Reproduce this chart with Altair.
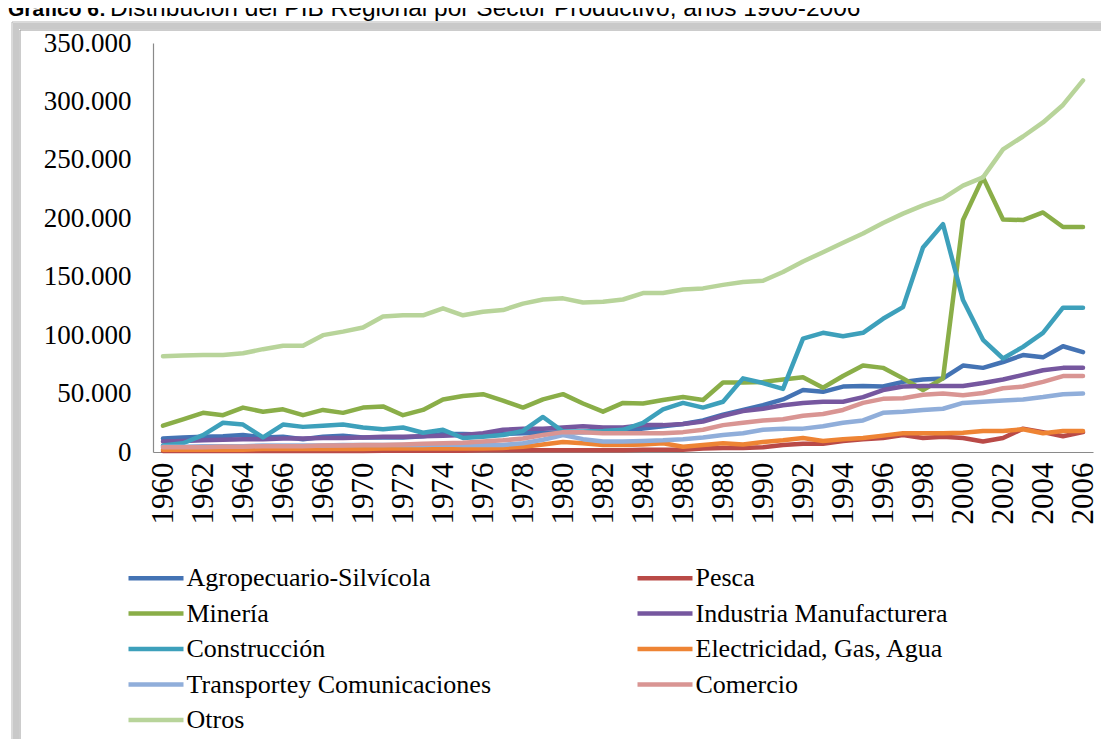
import altair as alt
import pandas as pd

years = list(range(1960, 2007))

series_names = [
    "Agropecuario-Silvícola", "Pesca", "Minería", "Industria Manufacturera",
    "Construcción", "Electricidad, Gas, Agua", "Transportey Comunicaciones",
    "Comercio", "Otros",
]
series_colors = [
    "#4473B4", "#B94A47", "#8AAE48", "#76579F",
    "#3DA0BB", "#EE8434", "#90AEDA", "#D99593", "#B8D49A",
]

# values in thousands
agro = [11.5, 12.5, 13, 13.5, 14.5, 12.5, 13, 11, 13, 14,
        12.5, 12.5, 12.5, 13.5, 15.5, 15.5, 15, 15.5, 16, 16.5,
        17, 17, 17.5, 18, 20, 22, 24, 27, 32, 36,
        40, 45, 53, 51.5, 56, 56.5, 56, 60, 62, 63,
        74, 72, 77, 83, 81, 90.5, 85.5]
pesca = [0.8, 0.8, 0.8, 0.8, 0.8, 0.8, 0.8, 0.8, 0.8, 0.8,
         0.8, 1, 1, 1, 1, 1, 1.5, 1.5, 1.5, 1.5,
         1.5, 1.5, 1.5, 1.5, 2, 2, 2, 3, 3.5, 3.5,
         4, 6, 7, 7, 9.5, 11, 12, 14.5, 12, 13,
         12, 9, 12, 20, 17, 13.5, 17]
mineria = [22.5, 28, 33.5, 31.5, 38, 34.5, 36.5, 31.5, 36, 33.5,
           38, 39, 31.5, 36, 45, 48, 49.5, 44, 38, 45,
           49.5, 41.5, 34.5, 42, 41.5, 44.5, 47, 44.5, 59.5, 59.5,
           60, 62, 64, 55, 65, 74, 72, 63, 53, 63,
           198.5, 235, 199, 198.5, 205, 192.5, 192.5]
industria = [9, 9.5, 10, 10.5, 11, 11, 11.5, 11.5, 12, 12,
             12.5, 13, 13, 13.5, 14, 14.5, 16, 19, 20, 20,
             21, 22, 21, 21, 23, 23, 24, 26, 31, 35,
             37, 40, 42, 43, 43, 47, 53, 56, 56.5, 56.5,
             56.5, 59, 62, 66, 70, 72, 72]
construccion = [5.5, 7.5, 14.5, 25, 23.5, 12.5, 23.5, 21.5, 22.5, 23.5,
                21, 19.5, 21, 16.5, 19, 12, 13, 14.5, 18, 30,
                17.5, 17.5, 18, 19, 25, 36.5, 42, 38, 43, 63,
                59, 54, 97, 102, 99, 102, 114, 124, 175, 195,
                130, 96, 80, 90, 102, 123.5, 123.5]
electricidad = [2, 2, 2, 2, 2, 2.5, 2.5, 2.5, 2.5, 2.5,
                2.5, 3, 3, 3, 3, 3, 3, 3.5, 4.5, 6.5,
                8.5, 7.5, 6, 6, 6.5, 7.5, 4.5, 6, 7.5, 6.5,
                8.5, 10, 12, 9.5, 11, 12, 14, 16, 16, 16,
                16.5, 18, 18, 19.5, 16, 18, 18]
transporte = [4.5, 4.5, 5, 5, 5, 5.5, 5.5, 5.5, 5.5, 6,
              6, 6, 6, 6, 6.5, 6, 6, 6, 7.5, 10.5,
              14.5, 11, 9, 9, 9.5, 10, 11, 12.5, 14.5, 16,
              19, 20, 20, 22, 25, 27, 33.5, 34.5, 36, 37,
              42, 43, 44, 45, 47, 49.5, 50]
comercio = [4, 4, 4, 4.5, 4.5, 5, 5, 5, 5.5, 5.5,
            6, 6, 6.5, 7, 7.5, 8, 9, 10, 11.5, 14.5,
            17, 17, 16, 16, 16, 16, 17, 19, 23, 25,
            27, 28, 31, 32.5, 36, 42, 45.5, 46, 49, 50,
            48.5, 50.5, 54.5, 56, 60, 65, 65]
otros = [82, 82.5, 83, 83, 84.5, 88, 91, 91, 100, 103,
         106.5, 116, 117, 117, 123, 117, 120, 121.5, 127, 130.5,
         131.5, 128, 128.5, 130.5, 136, 136, 139, 140, 143, 145.5,
         146.5, 154, 163, 171, 179, 187, 196, 204, 211, 217,
         228, 235, 259, 270, 282, 297, 318]

all_series = [agro, pesca, mineria, industria, construccion,
              electricidad, transporte, comercio, otros]

rows = []
for i, (name, vals) in enumerate(zip(series_names, all_series)):
    for yr, v in zip(years, vals):
        rows.append({"anio": yr, "serie": name, "valor": v * 1000, "orden": i})
df = pd.DataFrame(rows)

# legend is filled column by column: list column 1 entries, then column 2
legend_order = [0, 2, 4, 6, 8, 1, 3, 5, 7]
legend_domain = [series_names[i] for i in legend_order]
legend_range = [series_colors[i] for i in legend_order]

title_bold = "Gráfico 6:"
title_rest = "Distribución del PIB Regional por Sector Productivo, años 1960-2006"

SERIF = "Liberation Serif"

frame_outer = alt.Chart(alt.Data(values=[{"k": 1}])).mark_rect(
    filled=False, stroke="#C9C9C9", strokeWidth=6
).encode(x=alt.value(-137), x2=alt.value(1200), y=alt.value(-17), y2=alt.value(900))

frame_inner = alt.Chart(alt.Data(values=[{"k": 1}])).mark_rect(
    filled=False, stroke="#9A9A9A", strokeWidth=1
).encode(x=alt.value(-133), x2=alt.value(1200), y=alt.value(-13), y2=alt.value(900))

frame_edge = alt.Chart(alt.Data(values=[{"k": 1}])).mark_rect(
    filled=False, stroke="#B5B5B5", strokeWidth=1
).encode(x=alt.value(-141), x2=alt.value(1200), y=alt.value(-21), y2=alt.value(900))

lines = alt.Chart(df).mark_line(strokeWidth=4.5, strokeJoin="round", strokeCap="round").encode(
    x=alt.X(
        "anio:Q",
        scale=alt.Scale(domain=[1959.5, 2006.5], nice=False, zero=False),
        axis=alt.Axis(
            values=list(range(1960, 2007, 2)), format="d", labelAngle=-90,
            labelAlign="right", labelBaseline="middle", ticks=False, grid=False,
            domainColor="#8A8A8A", domainWidth=1.2, labelFont=SERIF, labelFontSize=31,
            labelColor="black", labelPadding=10, title=None,
        ),
    ),
    y=alt.Y(
        "valor:Q",
        scale=alt.Scale(domain=[0, 350000], nice=False),
        axis=alt.Axis(
            values=list(range(0, 350001, 50000)),
            labelExpr="datum.value == 0 ? '0' : format(datum.value / 1000, 'd') + '.000'",
            ticks=False, grid=False, domainColor="#8A8A8A", domainWidth=1.2,
            labelFont=SERIF, labelFontSize=27, labelColor="black", labelPadding=22,
            title=None,
        ),
    ),
    color=alt.Color(
        "serie:N",
        scale=alt.Scale(domain=legend_domain, range=legend_range),
        legend=alt.Legend(
            title=None, orient="none", legendX=-10.5, legendY=521.5, columns=2,
            symbolType="M-2.5,0L2.5,0", symbolSize=484, symbolStrokeWidth=4.5,
            labelFont=SERIF, labelFontSize=26, labelColor="black", labelLimit=500,
            labelOffset=17, rowPadding=8.5, columnPadding=137,
        ),
    ),
    detail="orden:O",
)

t1 = alt.Chart(alt.Data(values=[{"t": title_bold}])).mark_text(
    align="left", baseline="alphabetic", font="Liberation Sans", fontSize=21,
    fontWeight="bold", color="black"
).encode(x=alt.value(-145), y=alt.value(-27), text="t:N")

t2 = alt.Chart(alt.Data(values=[{"t": title_rest}])).mark_text(
    align="left", baseline="alphabetic", font="Liberation Sans", fontSize=24.5,
    color="black"
).encode(x=alt.value(-43), y=alt.value(-27), text="t:N")

chart = alt.layer(frame_outer, frame_inner, frame_edge, lines, t1, t2).properties(
    width=940, height=409,
    autosize=alt.AutoSizeParams(type="none"),
    padding={"left": 145, "top": 35, "right": 8, "bottom": 287},
).configure_view(strokeWidth=0)

chart.save("out.html", embed_options={"renderer": "svg", "actions": False})
